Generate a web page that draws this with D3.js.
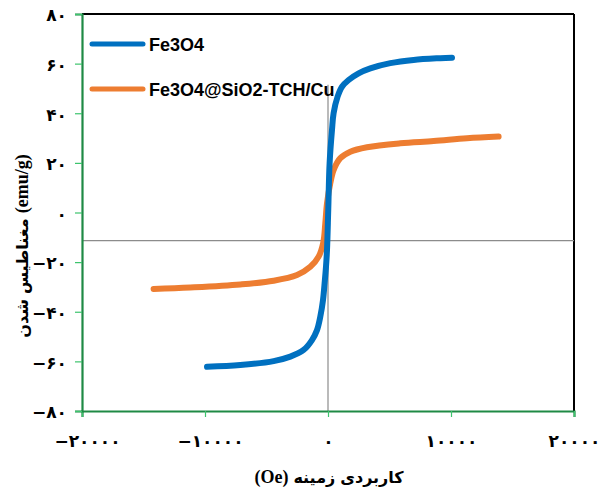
<!DOCTYPE html>
<html>
<head>
<meta charset="utf-8">
<script src="https://cdn.jsdelivr.net/npm/d3@7"></script>
<style>
  html, body { margin: 0; padding: 0; background: #fff; }
  svg { display: block; }
  .tick text { font-family: "DejaVu Sans", sans-serif; font-weight: bold; font-size: 17px; fill: #000; }
</style>
</head>
<body>
<svg id="chart" width="603" height="490"></svg>
<script>
// Magnetization curves (applied field in Oe, magnetization in emu/g)
const fieldFe3O4 = [-9837, -7130, -4423, -3065, -1984, -1301, -894, -626, -407, -276, -163, -81, 20, 130, 325, 455, 780, 1138, 1675, 2488, 3439, 5065, 6959, 9130, 10081];
const magFe3O4   = [-62.2, -61.5, -59.9, -58.1, -55.4, -51.4, -47.4, -42.0, -35.3, -28.5, -21.9, -15.1, 1.0, 19.8, 33.3, 40.0, 46.7, 50.7, 53.4, 56.1, 58.1, 60.2, 61.5, 62.2, 62.4];

const fieldComposite = [-14179, -11195, -7130, -4423, -2520, -1439, -764, -380, -220, -81, 187, 455, 1000, 1813, 3171, 5878, 8585, 11301, 13870];
const magComposite   = [-30.8, -30.2, -29.0, -27.5, -25.2, -21.9, -17.8, -12.0, -4.4, 3.7, 11.8, 17.1, 21.9, 24.5, 26.3, 27.9, 28.8, 29.9, 30.6];

const seriesNames = ["Fe3O4", "Fe3O4@SiO2-TCH/Cu"];
const seriesColors = ["#0070C0", "#ED7D31"];

const xTicks = [-20000, -10000, 0, 10000, 20000];
const yTicks = [-80, -60, -40, -20, 0, 20, 40, 60, 80];
const xDomain = [-20000, 20000];
const yDomain = [-80, 80];

// Gray cross lines
const crossX = 0;
const crossY = -11.3;
const crossYTop = 51.5;

// Axis titles, word by word in display order (left to right)
const xTitleWords = ["(Oe)", "زمینه", "کاربردی"];
const yTitleWords = ["شدن", "مغناطیس", "(emu/g)"];

const svg = d3.select("#chart");
const margin = { left: 82, right: 29, top: 14, bottom: 79 };
const W = 603, H = 490;

const x = d3.scaleLinear().domain(xDomain).range([margin.left, W - margin.right]);
const y = d3.scaleLinear().domain(yDomain).range([H - margin.bottom, margin.top]);

const faDigits = "۰۱۲۳۴۵۶۷۸۹";
const toFa = v => (v < 0 ? "−" : "") + String(Math.abs(v)).replace(/[0-9]/g, d => faDigits[+d]);

// Frame: top and right borders in black
svg.append("line").attr("x1", x(xDomain[0])).attr("x2", x(xDomain[1]))
  .attr("y1", y(yDomain[1])).attr("y2", y(yDomain[1])).attr("stroke", "#000").attr("stroke-width", 2);
svg.append("line").attr("x1", x(xDomain[1])).attr("x2", x(xDomain[1]))
  .attr("y1", y(yDomain[1])).attr("y2", y(yDomain[0])).attr("stroke", "#000").attr("stroke-width", 2);

svg.append("line").attr("x1", x(xDomain[0])).attr("x2", x(xDomain[1]))
  .attr("y1", y(crossY)).attr("y2", y(crossY)).attr("stroke", "#8c8c8c").attr("stroke-width", 1.2);
svg.append("line").attr("x1", x(crossX)).attr("x2", x(crossX))
  .attr("y1", y(yDomain[0])).attr("y2", y(crossYTop)).attr("stroke", "#8c8c8c").attr("stroke-width", 1.2);

// Axes
const xAxis = svg.append("g").attr("transform", `translate(0,${y(yDomain[0])})`)
  .call(d3.axisBottom(x).tickValues(xTicks).tickFormat(toFa).tickSize(6).tickPadding(18));
const yAxis = svg.append("g").attr("transform", `translate(${x(xDomain[0])},0)`)
  .call(d3.axisLeft(y).tickValues(yTicks).tickFormat(toFa).tickSize(7).tickPadding(8));

[xAxis, yAxis].forEach(g => {
  g.select(".domain").attr("stroke", "#1f8a45").attr("stroke-width", 2.2);
  g.selectAll(".tick line").attr("stroke", "#3dc46d").attr("stroke-width", 1.2);
});
xAxis.selectAll(".tick text").attr("dx", d => d < 0 ? 5 : 0);
yAxis.selectAll(".tick text").attr("dy", "0.4em");

// Curves
const line = d3.line().x(d => x(d[0])).y(d => y(d[1])).curve(d3.curveCatmullRom.alpha(0.5));
const series = [
  d3.zip(fieldFe3O4, magFe3O4),
  d3.zip(fieldComposite, magComposite)
];
// composite first, Fe3O4 on top
[1, 0].forEach(i => {
  svg.append("path").datum(series[i])
    .attr("d", line)
    .attr("fill", "none")
    .attr("stroke", seriesColors[i])
    .attr("stroke-width", 6)
    .attr("stroke-linecap", "round")
    .attr("stroke-linejoin", "round");
});

// Legend
const legend = svg.append("g");
seriesNames.forEach((name, i) => {
  const ly = 44 + i * 45;
  legend.append("line").attr("x1", 92).attr("x2", 143).attr("y1", ly).attr("y2", ly)
    .attr("stroke", seriesColors[i]).attr("stroke-width", 5).attr("stroke-linecap", "round");
  legend.append("text").attr("x", 149).attr("y", ly + 6.5)
    .attr("font-family", "Liberation Sans, Arial, sans-serif").attr("font-weight", "bold")
    .attr("font-size", 18).attr("fill", "#000")
    .text(name);
});

// Lays words out left to right inside a group, centered on 0
function placeWords(g, words, gap) {
  const isArabic = w => /[\u0600-\u06FF]/.test(w);
  const nodes = words.map(w => g.append("text")
    .attr("font-family", isArabic(w) ? "DejaVu Sans, sans-serif" : "Liberation Serif, serif")
    .attr("font-weight", "bold")
    .attr("font-size", isArabic(w) ? 16 : 18)
    .attr("fill", "#000")
    .text(w));
  const widths = nodes.map(n => n.node().getComputedTextLength());
  const total = d3.sum(widths) + gap * (words.length - 1);
  let cx = -total / 2;
  nodes.forEach((n, i) => { n.attr("x", cx); cx += widths[i] + gap; });
}

placeWords(svg.append("g").attr("transform", "translate(329,483)"), xTitleWords, 5);
placeWords(svg.append("g").attr("transform", "translate(28,246) rotate(-90)"), yTitleWords, 5);
</script>
</body>
</html>
